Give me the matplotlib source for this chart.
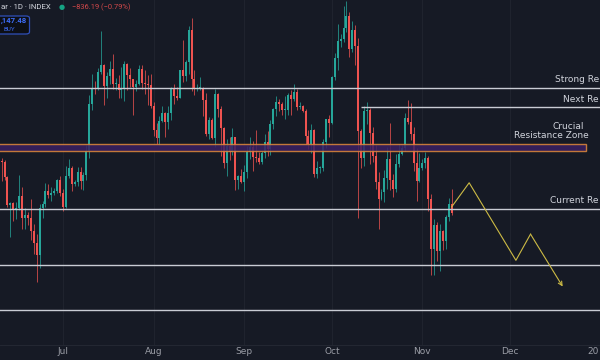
import matplotlib
matplotlib.use("Agg")
import matplotlib.pyplot as plt
import matplotlib.dates as mdates
from matplotlib.patches import FancyBboxPatch, Rectangle
import numpy as np
import pandas as pd

# daily candles, prices in thousands (k USD), 10 Jun 2025 onwards
opens = [
    110.3, 110.2, 108.7, 105.9, 106.1, 105.4, 105.6, 106.8, 104.6, 104.9,
    104.6, 103.3, 102.1, 100.9, 105.6, 106.0, 107.3, 106.9, 107.1, 107.3,
    108.4, 107.1, 105.7, 108.8, 109.6, 108.0, 108.2, 109.2, 108.3, 108.9,
    111.3, 115.9, 117.5, 117.4, 119.1, 119.8, 117.7, 118.7, 119.4, 117.9,
    117.9, 117.3, 117.4, 119.9, 118.8, 118.4, 117.6, 117.9, 119.4, 118.0,
    117.9, 117.8, 115.7, 113.3, 112.5, 114.2, 115.0, 114.1, 115.0, 117.5,
    116.7, 116.5, 119.3, 118.7, 120.1, 123.3, 118.4, 117.4, 117.5, 117.5,
    116.3, 112.9, 114.3, 112.5, 116.9, 115.4, 113.5, 110.1, 111.8, 111.2,
    112.6, 108.4, 108.8, 108.2, 109.2, 111.2, 111.7, 110.7, 110.6, 110.2,
    111.1, 112.1, 111.5, 113.9, 115.4, 116.1, 115.9, 115.3, 115.3, 116.8,
    116.4, 117.1, 115.6, 115.7, 115.2, 112.7, 112.0, 113.3, 109.0, 109.6,
    109.6, 112.1, 114.4, 114.0, 118.6, 120.5, 122.2, 122.4, 123.5, 124.7,
    121.4, 123.3, 121.7, 113.2, 110.6, 115.2, 115.3, 113.0, 110.8, 108.2,
    106.5, 107.2, 108.6, 110.5, 108.4, 107.5, 110.0, 111.0, 111.6, 114.5,
    114.1, 112.9, 110.1, 108.3, 109.6, 110.1, 110.6, 106.5, 101.5, 103.9,
    101.3, 103.3, 102.3, 104.7, 106.0,
]
highs = [
    110.6, 110.4, 108.8, 106.2, 106.2, 106.2, 108.9, 107.7, 105.6, 105.2,
    106.5, 104.0, 103.0, 106.0, 106.3, 108.1, 108.0, 107.7, 107.6, 108.5,
    108.8, 107.5, 109.8, 110.5, 109.8, 108.4, 109.7, 109.7, 109.2, 111.9,
    116.8, 118.9, 118.2, 119.5, 123.2, 119.9, 119.1, 120.2, 120.9, 118.5,
    118.8, 119.6, 120.2, 120.0, 119.5, 118.4, 118.3, 119.8, 119.8, 119.3,
    118.8, 118.9, 116.1, 114.0, 114.7, 115.7, 115.1, 115.7, 117.6, 117.9,
    117.6, 119.3, 122.3, 120.3, 123.7, 124.5, 119.3, 117.9, 118.6, 117.6,
    117.0, 114.6, 114.5, 117.4, 117.0, 115.7, 113.6, 112.4, 112.6, 113.5,
    112.6, 108.9, 109.5, 109.9, 111.8, 112.6, 112.2, 113.3, 111.2, 111.3,
    112.9, 113.2, 114.3, 115.5, 116.7, 116.4, 116.1, 116.7, 117.0, 117.3,
    117.9, 117.4, 116.1, 115.8, 115.4, 113.3, 113.9, 113.4, 110.3, 109.8,
    112.4, 114.4, 114.8, 118.7, 121.0, 123.9, 122.9, 125.7, 126.2, 125.1,
    124.2, 123.8, 122.5, 113.4, 115.7, 116.1, 115.5, 113.6, 111.9, 109.2,
    107.5, 109.4, 111.7, 114.0, 109.0, 111.0, 112.0, 111.9, 115.0, 116.3,
    116.0, 113.6, 111.6, 111.1, 110.5, 111.2, 110.8, 107.0, 104.5, 104.2,
    104.0, 103.4, 104.9, 106.6, 107.5,
]
lows = [
    108.3, 108.4, 105.7, 102.7, 104.3, 104.5, 105.4, 103.5, 103.5, 103.9,
    102.4, 101.0, 98.2, 99.6, 104.6, 105.7, 106.6, 106.3, 106.9, 107.1,
    106.8, 105.3, 105.6, 108.6, 107.3, 107.8, 107.8, 107.5, 107.4, 108.4,
    110.6, 115.3, 116.9, 117.3, 118.9, 115.8, 116.5, 117.9, 117.4, 117.3,
    116.5, 116.5, 116.2, 117.3, 117.6, 114.8, 117.2, 117.8, 117.4, 116.9,
    115.8, 115.5, 112.7, 112.0, 111.9, 114.1, 112.6, 113.4, 114.3, 115.9,
    116.3, 116.5, 118.1, 118.2, 118.9, 117.2, 116.8, 117.2, 117.3, 114.7,
    112.7, 112.4, 112.4, 111.7, 114.6, 110.8, 109.6, 108.8, 110.4, 110.9,
    107.4, 107.5, 108.1, 107.3, 108.6, 110.5, 109.3, 110.2, 110.0, 110.0,
    110.6, 110.8, 110.9, 113.4, 114.7, 115.2, 114.8, 114.4, 114.8, 114.8,
    116.2, 115.3, 115.4, 115.1, 112.0, 111.5, 111.1, 108.7, 108.6, 109.1,
    109.3, 111.6, 112.6, 113.9, 118.3, 119.3, 121.6, 122.1, 123.1, 120.6,
    121.1, 119.8, 104.6, 109.6, 109.8, 113.9, 110.0, 110.2, 107.5, 103.5,
    106.4, 106.2, 107.5, 107.4, 106.7, 107.2, 109.7, 110.9, 111.3, 113.9,
    112.3, 109.3, 106.3, 108.2, 109.4, 109.6, 105.3, 98.9, 98.9, 100.3,
    99.3, 101.4, 101.5, 104.3, 104.9,
]
closes = [
    110.2, 108.7, 105.9, 106.1, 105.4, 105.6, 106.8, 104.6, 104.9, 104.6,
    103.3, 102.1, 100.9, 105.6, 106.0, 107.3, 106.9, 107.1, 107.3, 108.4,
    107.1, 105.7, 108.8, 109.6, 108.0, 108.2, 109.2, 108.3, 108.9, 111.3,
    115.9, 117.5, 117.4, 119.1, 119.8, 117.7, 118.7, 119.4, 117.9, 117.9,
    117.3, 117.4, 119.9, 118.8, 118.4, 117.6, 117.9, 119.4, 118.0, 117.9,
    117.8, 115.7, 113.3, 112.5, 114.2, 115.0, 114.1, 115.0, 117.5, 116.7,
    116.5, 119.3, 118.7, 120.1, 123.3, 118.4, 117.4, 117.5, 117.5, 116.3,
    112.9, 114.3, 112.5, 116.9, 115.4, 113.5, 110.1, 111.8, 111.2, 112.6,
    108.4, 108.8, 108.2, 109.2, 111.2, 111.7, 110.7, 110.6, 110.2, 111.1,
    112.1, 111.5, 113.9, 115.4, 116.1, 115.9, 115.3, 115.3, 116.8, 116.4,
    117.1, 115.6, 115.7, 115.2, 112.7, 112.0, 113.3, 109.0, 109.6, 109.6,
    112.1, 114.4, 114.0, 118.6, 120.5, 122.2, 122.4, 123.5, 124.7, 121.4,
    123.3, 121.7, 113.2, 110.6, 115.2, 115.3, 113.0, 110.8, 108.2, 106.5,
    107.2, 108.6, 110.5, 108.4, 107.5, 110.0, 111.0, 111.6, 114.5, 114.1,
    112.9, 110.1, 108.3, 109.6, 110.1, 110.6, 106.5, 101.5, 103.9, 101.3,
    103.3, 102.3, 104.7, 106.0, 105.1,
]
start_date = "2025-06-10"

# drawn levels (k USD)
strong_res = 117.55
next_res = 115.6
zone_top, zone_bottom = 111.97, 111.3
current_res = 105.45
support_1 = 99.9
support_2 = 95.5
next_res_from = "2025-10-11"

# projected path
proj_dates = ["2025-11-11", "2025-11-17", "2025-12-03", "2025-12-08", "2025-12-19"]
proj_prices = [105.7, 108.1, 100.4, 103.0, 97.8]

month_ticks = ["2025-07-01", "2025-08-01", "2025-09-01", "2025-10-01",
               "2025-11-01", "2025-12-01"]
month_labels = ["Jul", "Aug", "Sep", "Oct", "Nov", "Dec"]

# texts as far as the screenshot shows them (it is cropped at both sides)
header = "ar \u00b7 1D \u00b7 INDEX"
change = "\u2212836.19 (\u22120.79%)"
price_tag = ",147.48"
year_tag = "20"
strong_lbl, next_lbl, current_lbl = "Strong Re", "Next Re", "Current Re"

BG = "#161a25"
UP = "#26a69a"
DOWN = "#ef5350"
LEVEL = "#c9ccd4"
TEXT = "#d1d4dc"

dates = pd.date_range(start_date, periods=len(closes), freq="D")
x = mdates.date2num(dates)
o = np.array(opens)
h = np.array(highs)
l = np.array(lows)
c = np.array(closes)
colors = np.where(c >= o, UP, DOWN)

fig = plt.figure(figsize=(6, 3.6), dpi=100, facecolor=BG)
ax = fig.add_axes([0, 15 / 360, 1, 345 / 360])
ax.set_facecolor(BG)

px_per_day = 2.922
x_left = mdates.date2num(pd.Timestamp("2025-07-01")) - 63 / px_per_day
x_right = x_left + 600 / px_per_day
ax.set_xlim(x_left, x_right)
ax.set_ylim(126.25 - 0.0993 * 345, 126.25)

tick_x = mdates.date2num(pd.to_datetime(month_ticks))
for tx in list(tick_x) + [mdates.date2num(pd.Timestamp("2026-01-01"))]:
    ax.axvline(tx, color="#20242f", lw=0.7, zorder=0)

# candles
ax.vlines(x, l, h, colors=colors, lw=0.7, alpha=0.75, zorder=2)
body_lo = np.minimum(o, c)
body_h = np.maximum(np.abs(c - o), 0.08)
ax.bar(x, body_h, bottom=body_lo, width=0.68, color=colors, linewidth=0, zorder=3)

# horizontal levels
for lv in (strong_res, current_res, support_1, support_2):
    ax.axhline(lv, color=LEVEL, lw=1.0, zorder=4)
nx = mdates.date2num(pd.Timestamp(next_res_from))
ax.hlines(next_res, nx, x_right, color=LEVEL, lw=1.0, zorder=4)

zone_right = x_left + 586 / px_per_day
ax.add_patch(Rectangle((x_left - 5, zone_bottom), zone_right - x_left + 5, zone_top - zone_bottom,
                       facecolor="#3a1f63", edgecolor="#e0893a", lw=1.0, alpha=0.85, zorder=4))

# projection
px = mdates.date2num(pd.to_datetime(proj_dates))
ax.plot(px[:-1], proj_prices[:-1], color="#cdbb45", lw=0.8, zorder=5)
ax.annotate("", xy=(px[-1], proj_prices[-1]), xytext=(px[-2], proj_prices[-2]),
            arrowprops=dict(arrowstyle="->", color="#cdbb45", lw=0.8,
                            mutation_scale=7, shrinkA=0, shrinkB=0), zorder=5)

# level labels
lab = dict(color=TEXT, fontsize=6.5, va="center", transform=ax.get_yaxis_transform(), zorder=6)
ax.text(599 / 600, strong_res + 0.85, strong_lbl, ha="right", **lab)
ax.text(599 / 600, next_res + 0.75, next_lbl, ha="right", **lab)
ax.text(599 / 600, current_res + 0.85, current_lbl, ha="right", **lab)
ax.text(568 / 600, zone_top + 1.7, "Crucial", ha="center", **lab)
ax.text(551 / 600, zone_top + 0.85, "Resistance Zone", ha="center", **lab)

ax.set_xticks(tick_x)
ax.set_xticklabels(month_labels)
ax.tick_params(axis="x", length=0, pad=1.5, labelsize=6.5, labelcolor="#9a9da6")
ax.set_yticks([])
for side in ("top", "left", "right"):
    ax.spines[side].set_visible(False)
ax.spines["bottom"].set_color("#262a35")
ax.spines["bottom"].set_linewidth(0.6)
fig.text(599 / 600, 8 / 360, year_tag, ha="right", va="center", color="#9a9da6", fontsize=6.5)

# header
fig.text(1 / 600, 1 - 7 / 360, header, ha="left", va="center", color=TEXT,
         fontsize=5.6, family="Roboto")
fig.text(62 / 600, 1 - 7 / 360, "\u25cf", ha="center", va="center", color="#15a383", fontsize=5)
fig.text(72 / 600, 1 - 7 / 360, change, ha="left", va="center",
         color="#d2484a", fontsize=5.4, family="Roboto")
fig.patches.append(FancyBboxPatch((-20 / 600, 1 - 34 / 360), 49.5 / 600, 18 / 360,
                                  boxstyle="round,pad=0,rounding_size=0.006",
                                  transform=fig.transFigure, facecolor="#0d0f15",
                                  edgecolor="#2f4fb8", lw=0.9))
fig.text(1 / 600, 1 - 21 / 360, price_tag, ha="left", va="center",
         color="#3d6cf5", fontsize=5.6, family="Roboto", fontweight="bold")
fig.text(3 / 600, 1 - 29.5 / 360, "BUY", ha="left", va="center", color="#3d6cf5",
         fontsize=4.5, family="Roboto")

fig.savefig("out.png", dpi=100, facecolor=BG)
